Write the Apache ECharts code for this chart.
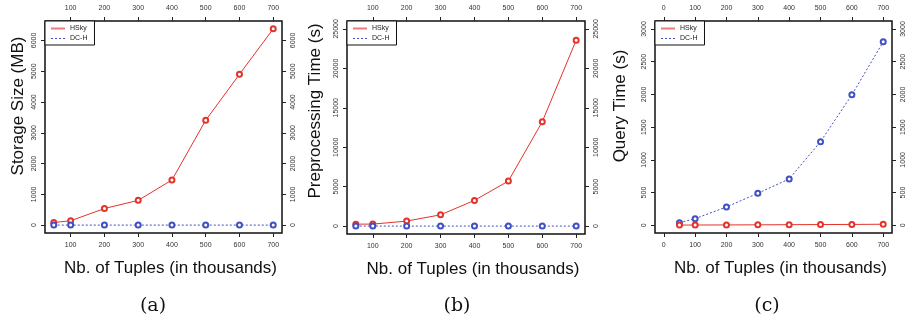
<!DOCTYPE html>
<html>
<head>
<meta charset="utf-8">
<script src="https://cdn.jsdelivr.net/npm/echarts@6/dist/echarts.min.js"></script>
<style>
  html, body {margin: 0; padding: 0; background: #fff;}
  #main {width: 920px; height: 322px;}
</style>
</head>
<body>
<div id="main"></div>
<script>
const tuples = [50, 100, 200, 300, 400, 500, 600, 700];

// (a) storage size (MB)
const storageHSky = [86, 142, 540, 805, 1467, 3407, 4900, 6377];
const storageDCH = [2, 2, 2, 2, 2, 2, 2, 2];
// (b) preprocessing time (s)
const prepHSky = [250, 254, 635, 1434, 3261, 5711, 13236, 23566];
const prepDCH = [5, 5, 5, 5, 5, 5, 5, 5];
// (c) query time (s)
const queryHSky = [3, 4, 5, 7, 9, 11, 13, 16];
const queryDCH = [40, 101, 280, 489, 708, 1278, 1993, 2803];

const xTicksAB = [100, 200, 300, 400, 500, 600, 700];
const xTicksC = [0, 100, 200, 300, 400, 500, 600, 700];
const yTicks = [
  [0, 1000, 2000, 3000, 4000, 5000, 6000],
  [0, 5000, 10000, 15000, 20000, 25000],
  [0, 500, 1000, 1500, 2000, 2500, 3000]
];

const yTitles = ['Storage Size (MB)', 'Preprocessing Time (s)', 'Query Time (s)'];
const captions = ['(a)', '(b)', '(c)'];

const RED = '#e3342c';
const BLUE = '#3f51c4';

const grids = [
  {left: 45, top: 21, width: 237, height: 212},
  {left: 347, top: 21, width: 238, height: 213},
  {left: 655, top: 21, width: 237, height: 212}
];
const xRanges = [[24, 726], [24, 726], [-28, 728]];
const yRanges = [[-255, 6632], [-1000, 26000], [-118, 3122]];
const yTitleX = [18, 315, 620];
const yTitleY = [106, 111, 106];
const captionX = [148, 452, 762];

const tickFont = {fontSize: 7, color: '#333', fontFamily: 'Liberation Sans'};
const plain = v => String(v);

function xAxes(i) {
  const [min, max] = xRanges[i];
  const ticks = i === 2 ? xTicksC : xTicksAB;
  const common = {
    type: 'value', gridIndex: i, min, max,
    splitLine: {show: false},
    axisLine: {show: false, onZero: false},
    axisTick: {show: true, length: 4, customValues: ticks, lineStyle: {color: '#222'}},
    axisLabel: Object.assign({margin: 9, customValues: ticks, formatter: plain}, tickFont)
  };
  return [
    Object.assign({}, common, {position: 'bottom',
      name: 'Nb. of Tuples (in thousands)', nameLocation: 'middle', nameGap: 27,
      nameTextStyle: {fontSize: 17, color: '#111', fontFamily: 'Liberation Sans', padding: [0, 0, 0, 14]}}),
    Object.assign({}, common, {position: 'top'})
  ];
}

function yAxes(i) {
  const [min, max] = yRanges[i];
  const common = {
    type: 'value', gridIndex: i, min, max,
    splitLine: {show: false},
    axisLine: {show: false, onZero: false},
    axisTick: {show: true, length: 4, customValues: yTicks[i], lineStyle: {color: '#222'}},
    axisLabel: Object.assign({rotate: 90, margin: 11, customValues: yTicks[i], formatter: plain,
      verticalAlign: 'middle', align: 'center'}, tickFont)
  };
  return [
    Object.assign({}, common, {position: 'left'}),
    Object.assign({}, common, {position: 'right'})
  ];
}

const data = [
  [storageHSky, storageDCH],
  [prepHSky, prepDCH],
  [queryHSky, queryDCH]
];

const xAxis = [], yAxis = [], series = [], legend = [], title = [], graphic = [];
for (let i = 0; i < 3; i++) {
  xAxis.push(...xAxes(i));
  yAxis.push(...yAxes(i));
  series.push({
    name: 'HSky', type: 'line', xAxisIndex: 2 * i, yAxisIndex: 2 * i,
    data: tuples.map((t, k) => [t, data[i][0][k]]),
    symbol: 'emptyCircle', symbolSize: 5,
    lineStyle: {color: RED, width: 1},
    itemStyle: {color: RED, borderWidth: 1},
    z: i === 2 ? 3 : 2
  });
  series.push({
    name: 'DC-H', type: 'line', xAxisIndex: 2 * i, yAxisIndex: 2 * i,
    data: tuples.map((t, k) => [t, data[i][1][k]]),
    symbol: 'emptyCircle', symbolSize: 5,
    lineStyle: {color: BLUE, width: 1, type: [2, 2]},
    itemStyle: {color: BLUE, borderWidth: 1},
    z: i === 2 ? 2 : 3
  });
  const g = grids[i];
  legend.push({
    left: g.left, top: g.top, orient: 'vertical',
    padding: [4, 7, 3, 5], itemGap: 3, itemWidth: 14, itemHeight: 6,
    borderColor: '#111', borderWidth: 1, backgroundColor: '#fff',
    selectedMode: false,
    textStyle: {fontSize: 7, color: '#222', fontFamily: 'Liberation Sans'},
    data: [
      {name: 'HSky', itemStyle: {opacity: 0}, lineStyle: {color: '#f07a7a', width: 2, type: 'solid'}},
      {name: 'DC-H', itemStyle: {opacity: 0}, lineStyle: {color: BLUE, width: 1, type: [2, 2]}}
    ]
  });
  title.push({
    text: captions[i], left: captionX[i], top: 292, textAlign: 'center',
    textStyle: {fontSize: 19, fontWeight: 'normal', color: '#111', fontFamily: 'DejaVu Serif'}
  });
  graphic.push({
    type: 'text', x: yTitleX[i], y: yTitleY[i], rotation: Math.PI / 2,
    style: {text: yTitles[i], fontSize: 17, fill: '#111', fontFamily: 'Liberation Sans',
      align: 'center', verticalAlign: 'middle'}
  });
}

const chart = echarts.init(document.getElementById('main'), null, {renderer: 'canvas'});
chart.setOption({
  animation: false,
  backgroundColor: '#fff',
  title,
  legend,
  graphic,
  grid: grids.map(g => Object.assign({show: true, borderColor: '#111', borderWidth: 1.5}, g)),
  xAxis,
  yAxis,
  series
});
</script>
</body>
</html>
